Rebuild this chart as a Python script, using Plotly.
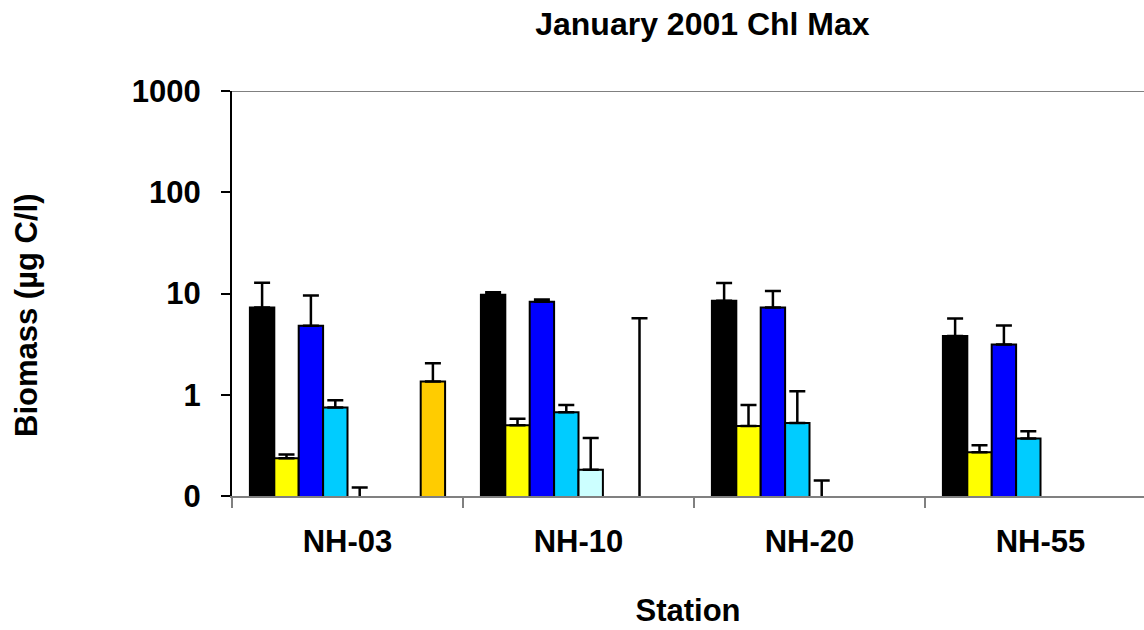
import plotly.graph_objects as go

# Stations along the x axis
stations = ["NH-03", "NH-10", "NH-20", "NH-55"]

# Biomass per group (µg C/l); values under 0.1 sit below the log axis floor
group1 = [7.27, 9.7, 8.47, 3.81]
group2 = [0.236, 0.50, 0.49, 0.271]
group3 = [4.79, 8.28, 7.27, 3.13]
group4 = [0.75, 0.67, 0.525, 0.37]
group5 = [0.05, 0.182, 0.05, None]
group6 = [None, None, None, None]
group7 = [None, 0.05, None, None]
group8 = [1.35, None, None, None]

# Upper error bar tops (same units)
group1_err_top = [12.8, 10.3, 12.7, 5.65]
group2_err_top = [0.257, 0.58, 0.79, 0.318]
group3_err_top = [9.55, 8.7, 10.6, 4.82]
group4_err_top = [0.88, 0.79, 1.08, 0.435]
group5_err_top = [0.121, 0.375, 0.142, None]
group6_err_top = [None, None, None, None]
group7_err_top = [None, 5.7, None, None]
group8_err_top = [2.05, None, None, None]

series = [
    ("Group 1", group1, group1_err_top, "#000000"),
    ("Group 2", group2, group2_err_top, "#FFFF00"),
    ("Group 3", group3, group3_err_top, "#0000FF"),
    ("Group 4", group4, group4_err_top, "#00CCFF"),
    ("Group 5", group5, group5_err_top, "#CCFFFF"),
    ("Group 6", group6, group6_err_top, "#993366"),
    ("Group 7", group7, group7_err_top, "#FF9900"),
    ("Group 8", group8, group8_err_top, "#FFCC00"),
]

FONT = "Liberation Sans, Arial, sans-serif"

fig = go.Figure()
for name, vals, tops, color in series:
    plus = [(t - v) if (t is not None and v is not None) else None
            for v, t in zip(vals, tops)]
    fig.add_trace(go.Bar(
        x=stations, y=vals, name=name,
        marker=dict(color=color, line=dict(color="#000000", width=2)),
        error_y=dict(type="data", symmetric=False, array=plus,
                     arrayminus=[0] * len(vals),
                     color="#000000", thickness=2.5, width=8),
        showlegend=False,
    ))

fig.update_layout(
    width=1144, height=630,
    margin=dict(l=232, r=0, t=91, b=134),
    paper_bgcolor="white", plot_bgcolor="white",
    barmode="group", bargap=0.155, bargroupgap=0,
    font=dict(family=FONT, color="#000000"),
    title=dict(text="<b>January 2001 Chl Max</b>", x=0.614, xanchor="center",
               y=0.962, yanchor="middle", font=dict(size=32, family=FONT)),
    xaxis=dict(
        range=[-0.5, 3.448], tickson="boundaries",
        ticks="outside", ticklen=10, tickwidth=2, tickcolor="#808080",
        showline=True, linecolor="#808080", linewidth=2,
        showgrid=False, zeroline=False,
        tickfont=dict(size=31, family=FONT),
        ticklabelstandoff=17,
        tickprefix="<b>", ticksuffix="</b>",
        title=dict(text="<b>Station</b>", font=dict(size=31, family=FONT),
                   standoff=41),
    ),
    yaxis=dict(
        type="log", range=[-1, 3],
        tickvals=[0.1, 1, 10, 100, 1000],
        ticktext=["<b>0</b>", "<b>1</b>", "<b>10</b>", "<b>100</b>", "<b>1000</b>"],
        ticks="outside", ticklen=9, tickwidth=2, tickcolor="#000000",
        showline=True, linecolor="#000000", linewidth=2,
        showgrid=False, zeroline=False,
        tickfont=dict(size=31, family=FONT),
        ticklabelstandoff=14,
    ),
    annotations=[dict(
        text="<b>Biomass (µg C/l)</b>", textangle=-90,
        xref="paper", yref="paper", x=0, y=0.447,
        xanchor="center", yanchor="middle", xshift=-205,
        showarrow=False, font=dict(size=31, family=FONT),
    )],
    shapes=[dict(type="line", xref="paper", yref="y", x0=0, x1=1,
                 y0=1000, y1=1000, line=dict(color="#808080", width=2))],
)

fig.write_html("out.html")
